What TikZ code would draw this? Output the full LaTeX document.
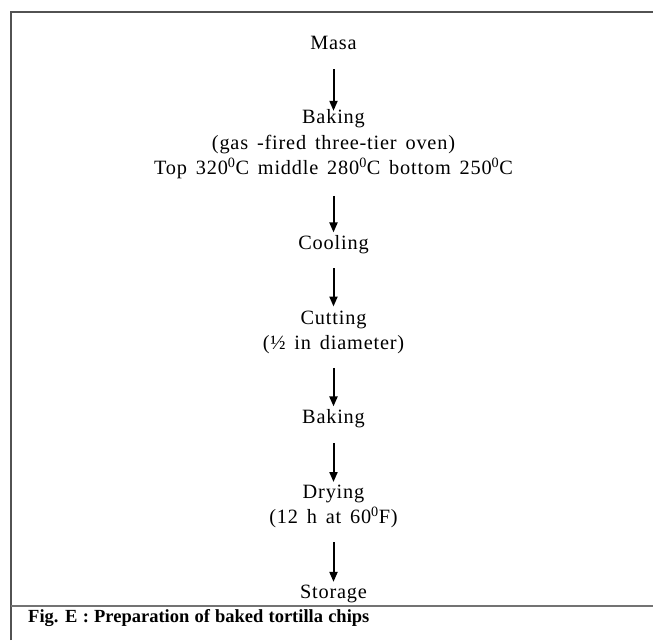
\documentclass[tikz,border=0pt]{standalone}
\usepackage{fontspec}
\setmainfont{Liberation Serif}[LetterSpace=4,WordSpace=1.5]
\newfontfamily\capfont{Liberation Serif}[WordSpace=1.12]
\usetikzlibrary{arrows.meta}
\begin{document}
\begin{tikzpicture}[x=1pt,y=-1pt,
  txt/.style={font=\fontsize{20.3}{25.5}\selectfont, inner sep=0pt, align=center},
  arr/.style={line width=2pt, -{Triangle[length=10pt,width=8pt]}},
  frame/.style={draw=black!68, line width=1.1pt}]
\useasboundingbox (0,0) rectangle (653,640);
% frame
\draw[frame] (11,640) -- (11,12) -- (653,12);
\draw[frame, draw=black!55] (11,606) -- (653,606);
% nodes
\node[txt, anchor=base] (masa) at (333.5,49) {Masa};
\node[txt, anchor=north] (bake1) at (333.5,109.3) {Baking\\(gas -fired three-tier oven)\\Top 320\textsuperscript{0}C middle 280\textsuperscript{0}C bottom 250\textsuperscript{0}C};
\node[txt, anchor=base] (cool) at (333.5,249) {Cooling};
\node[txt, anchor=north] (cut) at (333.5,310.5) {Cutting\\(½ in diameter)};
\node[txt, anchor=base] (bake2) at (333.5,423) {Baking};
\node[txt, anchor=north] (dry) at (333.5,484.8) {Drying\\(12 h at 60\textsuperscript{0}F)};
\node[txt, anchor=base] (stor) at (333.5,598) {Storage};
\node[inner sep=0pt, anchor=base west, font=\capfont\bfseries\fontsize{18.5}{22}\selectfont] (cap) at (28,622) {Fig. E : Preparation of baked tortilla chips};
% arrows
\begin{scope}[xshift=-1.5pt]
\draw[arr, shorten <=20pt, shorten >=-1.5pt] (masa) -- (bake1);
\draw[arr, shorten <=16.7pt, shorten >=2.3pt] (bake1) -- (cool);
\draw[arr, shorten <=14.7pt, shorten >=4pt] (cool) -- (cut);
\draw[arr, shorten <=13.7pt, shorten >=2.3pt] (cut) -- (bake2);
\draw[arr, shorten <=15.7pt, shorten >=2.8pt] (bake2) -- (dry);
\draw[arr, shorten <=13.7pt, shorten >=2.5pt] (dry) -- (stor);
\end{scope}
\end{tikzpicture}
\end{document}
